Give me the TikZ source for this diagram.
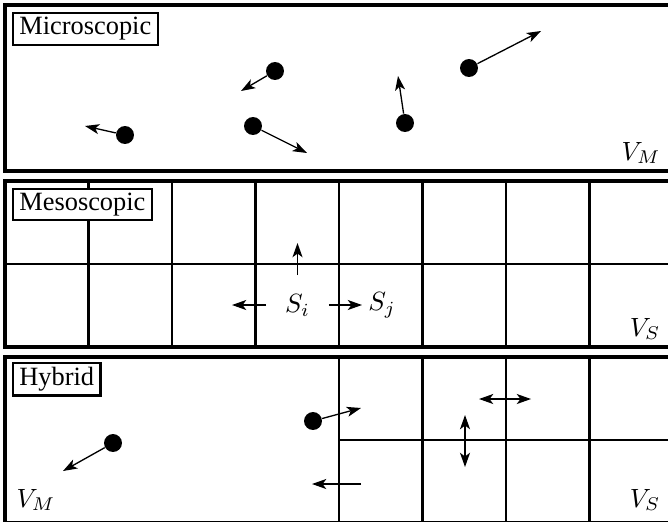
\documentclass[tikz,border=0pt]{standalone}
\usepackage{fontspec}
\setmainfont{Liberation Serif}
\usetikzlibrary{arrows.meta}
\begin{document}
\begin{tikzpicture}[x=0.379pt,y=-0.379pt,
  panel/.style={line width=1.2pt},
  gridline/.style={line width=1.05pt},
  labelbox/.style={draw,line width=0.8pt,fill=white,inner xsep=2.4pt,inner ysep=1.6pt,anchor=north west,font=\fontsize{10}{12}\selectfont},
  particle/.style={circle,fill=black,minimum size=6.8pt,inner sep=0pt},
  arr/.style={line width=0.5pt,-{Stealth[length=5.4pt,width=3.8pt,inset=1.4pt]}},
  darr/.style={line width=0.5pt,{Stealth[length=5.4pt,width=3.8pt,inset=1.4pt]}-{Stealth[length=5.4pt,width=3.8pt,inset=1.4pt]}},
  vol/.style={inner sep=0pt}]
\useasboundingbox (0,0) rectangle (668,521);
\clip (0,0) rectangle (668,521);
% ---------- Microscopic ----------
\draw[panel] (5,5) rectangle (673,171);
\node[labelbox] (lm) at (12,12) {Microscopic};
\node[particle] (p1) at (275,71) {};
\coordinate (q1) at (241,91);
\node[particle] (p2) at (125,135) {};
\coordinate (q2) at (85,126);
\node[particle] (p3) at (253,126) {};
\coordinate (q3) at (307,153);
\node[particle] (p4) at (405,123) {};
\coordinate (q4) at (398,76);
\node[particle] (p5) at (469,68) {};
\coordinate (q5) at (541,31);
\draw[arr] (p1) -- (q1);
\draw[arr] (p2) -- (q2);
\draw[arr] (p3) -- (q3);
\draw[arr] (p4) -- (q4);
\draw[arr] (p5) -- (q5);
\node[vol,anchor=base east] (vm1) at (661,160) {$V_M$};
% ---------- Mesoscopic ----------
\draw[gridline] (5,264) -- (673,264);
\foreach \x in {88.5,172,255.5,339,422.5,506,589.5}
  \draw[gridline] (\x,181) -- (\x,347);
\draw[panel] (5,181) rectangle (673,347);
\node[labelbox] (ls) at (12,187.5) {Mesoscopic};
\node[inner sep=7pt] (Si) at (297.5,305) {$S_i$};
\node[inner sep=2.2pt,anchor=west] (Sj) at (362,305) {$S_j$};
\coordinate (su) at (297.5,243);
\coordinate (sl) at (232,305);
\draw[arr] (Si.north) -- (su);
\draw[arr] (Si.west) -- (sl);
\draw[arr] (Si.east) -- (Sj.west);
\node[vol,anchor=base east] (vs1) at (661,336) {$V_S$};
% ---------- Hybrid ----------
\draw[gridline] (339,440) -- (673,440);
\foreach \x in {339,422.5,506,589.5}
  \draw[gridline] (\x,357) -- (\x,523);
\draw[panel] (5,357) rectangle (673,523);
\node[labelbox] (lh) at (12,362) {Hybrid};
\node[particle] (h1) at (113,443) {};
\coordinate (k1) at (63,471);
\node[particle] (h2) at (313,421) {};
\coordinate (k2) at (361,408);
\coordinate (a1) at (361,484);
\coordinate (a2) at (312,484);
\coordinate (b1) at (479,399);
\coordinate (b2) at (531,399);
\coordinate (c1) at (465,415);
\coordinate (c2) at (465,467);
\draw[arr] (h1) -- (k1);
\draw[arr] (h2) -- (k2);
\draw[arr] (a1) -- (a2);
\draw[darr] (b1) -- (b2);
\draw[darr] (c1) -- (c2);
\node[vol,anchor=base west] (vm2) at (16,507) {$V_M$};
\node[vol,anchor=base east] (vs2) at (661,507) {$V_S$};
\end{tikzpicture}
\end{document}
